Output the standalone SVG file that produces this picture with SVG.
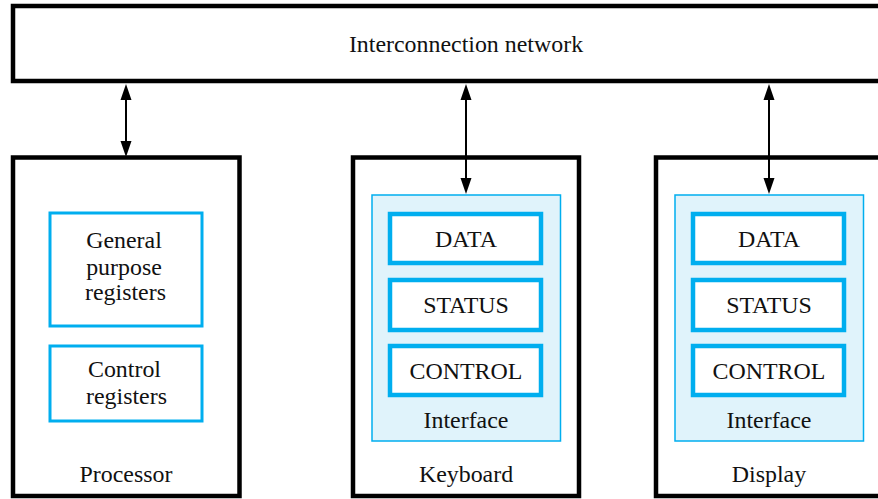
<svg xmlns="http://www.w3.org/2000/svg" width="878" height="499" viewBox="0 0 878 499">
<style>
text{font-family:"Liberation Serif","Times New Roman",serif;font-size:23.9px;fill:#111;text-anchor:middle}
.box{fill:#fff;stroke:#000;stroke-width:4.5}
.iface{fill:#e0f3fb;stroke:#00aeef;stroke-width:1.5}
.reg{fill:#fff;stroke:#00aeef;stroke-width:4.5}
.reg2{fill:#fff;stroke:#00aeef;stroke-width:3}
.conn{stroke:#000;stroke-width:2;fill:none}
</style>
<rect width="878" height="499" fill="#fff"/>
<g id="network"><rect class="box" x="13" y="6" width="880" height="75"/><text x="466" y="52">Interconnection network</text></g>
<g id="processor"><rect class="box" x="13" y="157.5" width="226.5" height="338.5"/><text x="126" y="482">Processor</text>
<g id="gpr"><rect class="reg2" x="50" y="213" width="152" height="113"/><text x="124" y="248">General</text><text x="124" y="275">purpose</text><text x="125.500" y="300">registers</text></g>
<g id="ctrl"><rect class="reg2" x="50" y="346" width="152" height="75"/><text x="124.500" y="377">Control</text><text x="126.500" y="404">registers</text></g>
</g>
<g id="keyboard"><rect class="box" x="353" y="157.5" width="226" height="338.5"/><text x="466" y="482">Keyboard</text>
<g id="kb-interface"><rect class="iface" x="372" y="195" width="188.500" height="246"/><text x="466" y="428">Interface</text></g>
<g id="kb-data"><rect class="reg" x="390" y="214" width="151" height="49"/><text x="466" y="247">DATA</text></g>
<g id="kb-status"><rect class="reg" x="390" y="280" width="151" height="50"/><text x="466" y="313">STATUS</text></g>
<g id="kb-control"><rect class="reg" x="390" y="346" width="151" height="49"/><text x="466" y="379">CONTROL</text></g>
</g>
<g id="display"><rect class="box" x="656" y="157.5" width="240" height="338.5"/><text x="769" y="482">Display</text>
<g id="d-interface"><rect class="iface" x="675" y="195" width="188.500" height="246"/><text x="769" y="428">Interface</text></g>
<g id="d-data"><rect class="reg" x="693" y="214" width="151" height="49"/><text x="769" y="247">DATA</text></g>
<g id="d-status"><rect class="reg" x="693" y="280" width="151" height="50"/><text x="769" y="313">STATUS</text></g>
<g id="d-control"><rect class="reg" x="693" y="346" width="151" height="49"/><text x="769" y="379">CONTROL</text></g>
</g>
<g id="connectors">
<path class="conn" d="M126 95V146M466 95V182M769 95V182"/>
<path d="M126 84l-5.500 16h11zM126 157l-5.500-16h11zM466 84l-5.500 16h11zM466 194l-5.500-16h11zM769 84l-5.500 16h11zM769 194l-5.500-16h11z" fill="#000"/>
</g>
</svg>
